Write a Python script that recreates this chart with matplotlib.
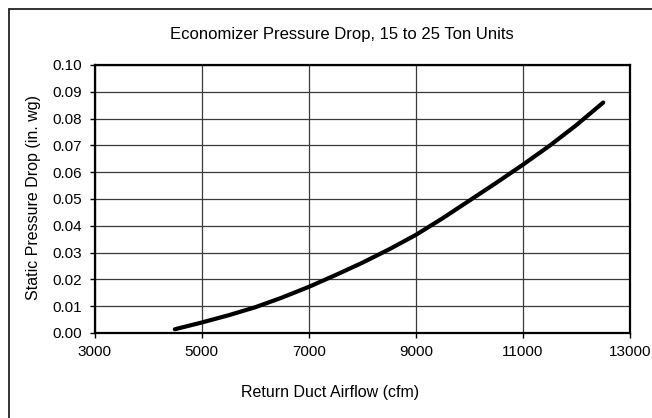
import matplotlib
matplotlib.use("Agg")
import matplotlib.pyplot as plt
from matplotlib.patches import Rectangle

plt.rcParams["font.family"] = ["Liberation Sans", "DejaVu Sans"]

# Economizer pressure drop curve, 15 to 25 ton units
airflow_cfm = [4500, 5000, 5500, 6000, 6500, 7000, 7500, 8000, 8500,
               9000, 9500, 10000, 10500, 11000, 11500, 12000, 12500]
pressure_drop = [0.0014, 0.0039, 0.0066, 0.0096, 0.0132, 0.0172, 0.0216,
                 0.0262, 0.0312, 0.0366, 0.0428, 0.0494, 0.0560, 0.0628,
                 0.0699, 0.0776, 0.0860]

x_ticks = [3000, 5000, 7000, 9000, 11000, 13000]
y_ticks = [0.00, 0.01, 0.02, 0.03, 0.04, 0.05, 0.06, 0.07, 0.08, 0.09, 0.10]

W, H = 652, 418
fig = plt.figure(figsize=(W / 100, H / 100), dpi=100)
fig.patch.set_facecolor("white")

# outer chart frame
fig.patches.append(Rectangle((9 / W, -0.1), 1.2, 1.1 - 9 / H,
                             transform=fig.transFigure, fill=False,
                             edgecolor="#222222", linewidth=1.3))

ax = fig.add_axes([94.5 / W, (H - 333) / H, (630 - 94.5) / W, (333 - 65) / H])
ax.plot(airflow_cfm, pressure_drop, color="black", linewidth=3,
        solid_capstyle="round", zorder=3)

ax.set_xlim(3000, 13000)
ax.set_ylim(0, 0.10)
ax.set_xticks(x_ticks)
ax.set_yticks(y_ticks)
ax.set_xticklabels([str(t) for t in x_ticks])
ax.set_yticklabels([f"{t:.2f}" for t in y_ticks])
ax.tick_params(direction="out", length=3.6, width=1, labelsize=11,
               colors="black")
ax.tick_params(axis="x", pad=5)
ax.tick_params(axis="y", pad=5.5)
ax.grid(True, color="#3a3a3a", linewidth=0.9)
ax.set_axisbelow(True)
for s in ax.spines.values():
    s.set_linewidth(1.6)
    s.set_color("black")

fig.text(342 / W, 1 - 34 / H, "Economizer Pressure Drop, 15 to 25 Ton Units",
         ha="center", va="center", fontsize=12)
fig.text(330 / W, 1 - 392 / H, "Return Duct Airflow (cfm)",
         ha="center", va="center", fontsize=11.5)
fig.text(34 / W, 1 - 198 / H, "Static Pressure Drop (in. wg)",
         ha="center", va="center", rotation=90, fontsize=11.5)

fig.savefig("out.png", dpi=100)
